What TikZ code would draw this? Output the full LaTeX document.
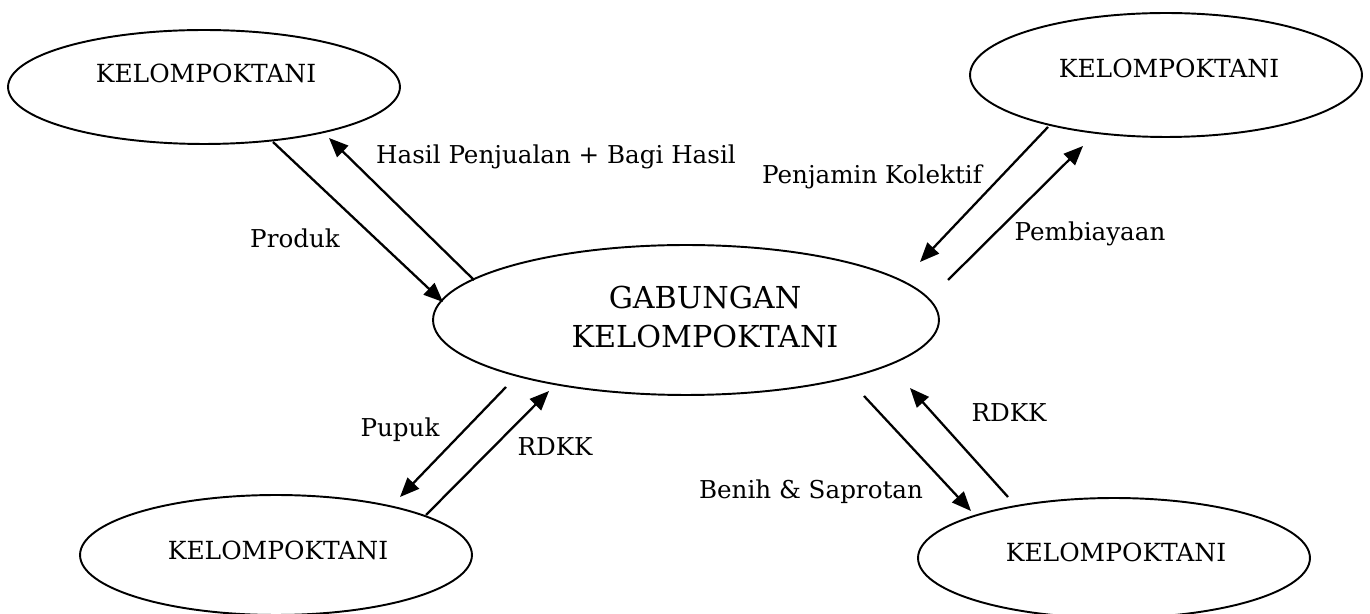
\documentclass[tikz,border=0pt]{standalone}
\usepackage{fontspec}
\setmainfont{DejaVu Serif}
\usetikzlibrary{shapes.geometric,arrows.meta}
\begin{document}
\begin{tikzpicture}[x=0.02cm,y=-0.02cm,
  group/.style={draw,ellipse,line width=1.1pt,inner sep=0pt,
    minimum width=7.84cm,minimum height=2.4cm},
  grouptext/.style={font=\fontsize{14.2}{17}\selectfont,inner sep=0pt},
  caption/.style={font=\fontsize{14}{17}\selectfont,inner sep=0pt},
  bigcaption/.style={font=\fontsize{17.2}{22.7}\selectfont,inner sep=0pt,align=center},
  flow/.style={line width=1.3pt,-{Triangle[length=11pt,width=9pt]}}]
\useasboundingbox (0,0) rectangle (1370,614);

% the five groups
\node[group,minimum height=2.28cm] (tl) at (204,87) {};
\node[group,minimum height=2.48cm] (tr) at (1166,75) {};
\node[group,minimum width=10.12cm,minimum height=3.0cm] (c) at (686,320) {};
\node[group] (bl) at (276,555) {};
\node[group] (br) at (1114,558) {};

\node[grouptext] (tlt) at (206,73) {KELOMPOKTANI};
\node[grouptext] (trt) at (1169,68) {KELOMPOKTANI};
\node[grouptext] (blt) at (278,550) {KELOMPOKTANI};
\node[grouptext] (brt) at (1116,552) {KELOMPOKTANI};
\node[bigcaption] (ct) at (705,317) {GABUNGAN\\KELOMPOKTANI};

% connector end points near the ellipse borders
\coordinate (p1) at (273,142);  \coordinate (p2) at (443,302);
\coordinate (h1) at (474,280);  \coordinate (h2) at (329,138);
\coordinate (k1) at (1048,127); \coordinate (k2) at (920,262);
\coordinate (b1) at (948,280);  \coordinate (b2) at (1083,146);
\coordinate (u1) at (506,387);  \coordinate (u2) at (400,497);
\coordinate (r1) at (426,515);  \coordinate (r2) at (549,391);
\coordinate (s1) at (864,396);  \coordinate (s2) at (971,511);
\coordinate (d1) at (1008,497); \coordinate (d2) at (910,388);

\draw[flow] (p1) -- (p2);
\draw[flow] (h1) -- (h2);
\draw[flow] (k1) -- (k2);
\draw[flow] (b1) -- (b2);
\draw[flow] (u1) -- (u2);
\draw[flow] (r1) -- (r2);
\draw[flow] (s1) -- (s2);
\draw[flow] (d1) -- (d2);

% flow labels
\node[caption] (lp) at (295,238) {Produk};
\node[caption] (lh) at (556,157) {Hasil Penjualan + Bagi Hasil};
\node[caption] (lk) at (872,177) {Penjamin Kolektif};
\node[caption] (lb) at (1090,234) {Pembiayaan};
\node[caption] (lu) at (400,430) {Pupuk};
\node[caption] (lr) at (555,447) {RDKK};
\node[caption] (ls) at (811,492) {Benih \& Saprotan};
\node[caption] (ld) at (1009,413) {RDKK};
\end{tikzpicture}
\end{document}
